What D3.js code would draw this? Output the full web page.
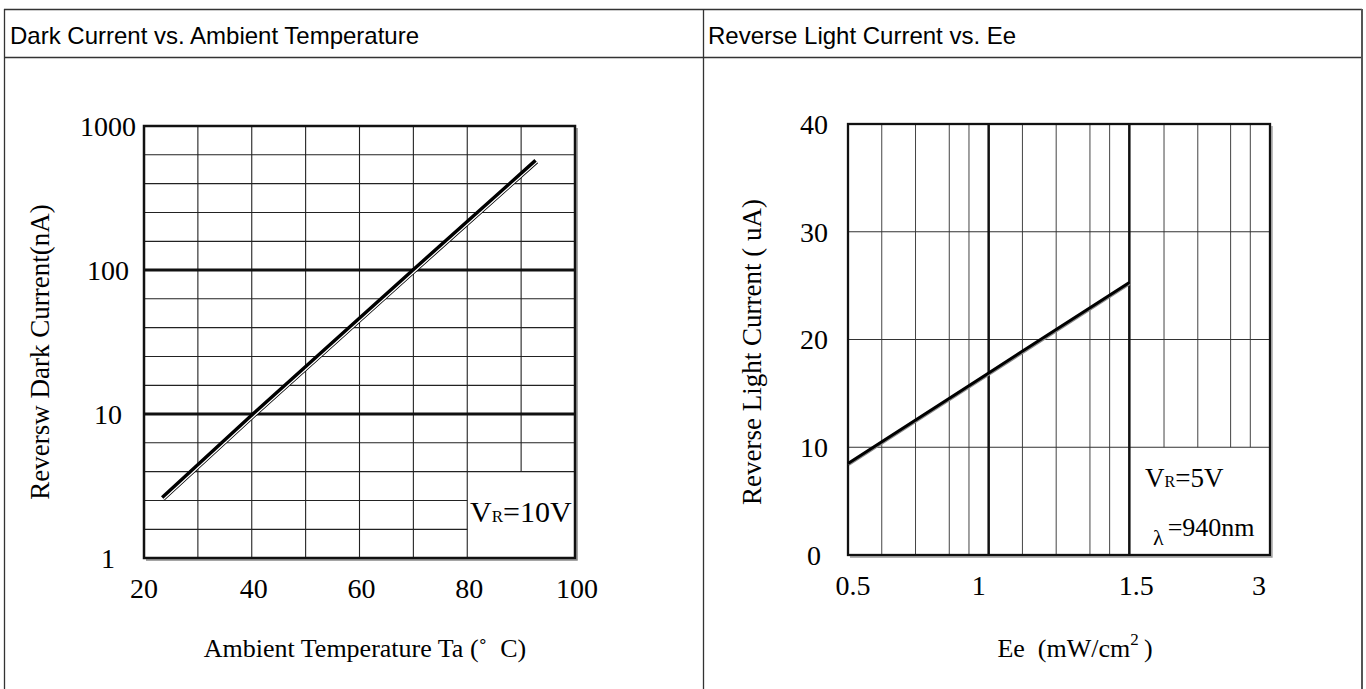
<!DOCTYPE html>
<html lang="en">
<head>
<meta charset="UTF-8">
<title>Dark Current / Reverse Light Current</title>
<style>
  body { margin: 0; background: #fff; }
  .head { font-family: "Liberation Sans", Arial, sans-serif; font-size: 24px; fill: #000; }
  .serif { font-family: "Liberation Serif", "Times New Roman", serif; fill: #000; }
</style>
</head>
<body>
<svg id="chart" width="1366" height="689"></svg>
<script src="https://cdn.jsdelivr.net/npm/d3@7"></script>
<script>
// left chart: dark current vs ambient temperature
const tempTicks = [20, 40, 60, 80, 100];
const tempGrid = [30, 40, 50, 60, 70, 80, 90];
const darkTicks = [1, 10, 100, 1000];
const darkMinor = [1.58, 2.51, 3.98, 6.31, 15.8, 25.1, 39.8, 63.1, 158, 251, 398, 631];
const curveTemp = [23.5, 40.5, 70.2, 92.8];
const curveDark = [2.6, 10, 100, 570];

// right chart: reverse light current vs Ee
const eeTicks = [0.5, 1, 1.5, 3];
const eeMinor = [0.62, 0.74, 0.86, 0.93, 1.12, 1.24, 1.36, 1.43, 1.87, 2.23, 2.58, 2.79];
const lightTicks = [0, 10, 20, 30, 40];
const lineEe = [0.5, 1, 1.5];
const lineCurrent = [8.5, 16.9, 25.3];

const svg = d3.select("#chart");

// table frame
const frame = svg.append("g").attr("stroke", "#333").attr("stroke-width", 1.3);
frame.append("line").attr("x1", 4).attr("x2", 1362).attr("y1", 9.5).attr("y2", 9.5);
frame.append("line").attr("x1", 4).attr("x2", 1362).attr("y1", 57.5).attr("y2", 57.5);
frame.append("line").attr("x1", 4.5).attr("x2", 4.5).attr("y1", 9).attr("y2", 689);
frame.append("line").attr("x1", 703.5).attr("x2", 703.5).attr("y1", 9).attr("y2", 689);
frame.append("line").attr("x1", 1362).attr("x2", 1362).attr("y1", 9).attr("y2", 689)
    .attr("stroke", "#555").attr("stroke-width", 2);

svg.append("text").attr("class", "head").attr("x", 10).attr("y", 44)
    .text("Dark Current vs. Ambient Temperature");
svg.append("text").attr("class", "head").attr("x", 708).attr("y", 44)
    .text("Reverse Light Current vs. Ee");

// ---------- left chart ----------
const x1 = d3.scaleLinear().domain([20, 100]).range([144, 575]);
const y1 = d3.scaleLog().domain([1, 1000]).range([558, 126]);
const g1 = svg.append("g");

// legend box corner (grid is left open there)
const boxT = 80, boxV = 3.98;

g1.selectAll(".vgrid").data(tempGrid).enter().append("line")
    .attr("x1", d => x1(d)).attr("x2", d => x1(d))
    .attr("y1", y1(1000))
    .attr("y2", d => d > boxT ? y1(boxV) : y1(1))
    .attr("stroke", "#222").attr("stroke-width", 1.1);

g1.selectAll(".hgrid").data(darkMinor).enter().append("line")
    .attr("x1", x1(20))
    .attr("x2", d => d < boxV ? x1(boxT) : x1(100))
    .attr("y1", d => y1(d)).attr("y2", d => y1(d))
    .attr("stroke", "#222").attr("stroke-width", 1.1);

g1.selectAll(".decade").data([10, 100]).enter().append("line")
    .attr("x1", x1(20)).attr("x2", x1(100))
    .attr("y1", d => y1(d)).attr("y2", d => y1(d))
    .attr("stroke", "#111").attr("stroke-width", 3);

// plot border, with the slight grey shadow on right/bottom
g1.append("path")
    .attr("d", `M${x1(100) + 2},${y1(1000) + 2}V${y1(1) + 2}H${x1(20) + 2}`)
    .attr("fill", "none").attr("stroke", "#888").attr("stroke-width", 1.5);
g1.append("rect")
    .attr("x", x1(20)).attr("y", y1(1000))
    .attr("width", x1(100) - x1(20)).attr("height", y1(1) - y1(1000))
    .attr("fill", "none").attr("stroke", "#111").attr("stroke-width", 2.5);

// curve drawn as a black band with a thin white core
const darkPts = curveTemp.map((t, i) => [t, curveDark[i]]);
const line1 = d3.line().x(d => x1(d[0])).y(d => y1(d[1]));
const a = darkPts[0], b = darkPts[darkPts.length - 1];
let dx = x1(b[0]) - x1(a[0]), dy = y1(b[1]) - y1(a[1]);
let len = Math.hypot(dx, dy);
const off1 = [-dy / len * 1.3, dx / len * 1.3];
g1.append("path").attr("d", line1(darkPts))
    .attr("fill", "none").attr("stroke", "#000").attr("stroke-width", 5.5);
g1.append("path").attr("d", line1(darkPts))
    .attr("transform", `translate(${Math.abs(off1[0])},${Math.abs(off1[1])})`)
    .attr("fill", "none").attr("stroke", "#fff").attr("stroke-width", 1.2);

// tick labels
g1.selectAll(".ylab").data(darkTicks).enter().append("text")
    .attr("class", "serif").attr("font-size", 28)
    .attr("text-anchor", "middle")
    .attr("x", 108).attr("y", d => y1(d)).attr("dy", "0.35em")
    .text(d => d);
g1.selectAll(".xlab").data(tempTicks).enter().append("text")
    .attr("class", "serif").attr("font-size", 28)
    .attr("text-anchor", "middle")
    .attr("x", d => d === 20 ? x1(d) : x1(d) + 2).attr("y", 598)
    .text(d => d);

g1.append("text").attr("class", "serif").attr("font-size", 26)
    .attr("text-anchor", "middle").attr("x", 365).attr("y", 657)
    .text("Ambient Temperature Ta (\u02DA\u2002C)");
g1.append("text").attr("class", "serif").attr("font-size", 27)
    .attr("text-anchor", "middle")
    .attr("transform", "translate(49,352) rotate(-90)")
    .text("Reversw Dark Current(nA)");

const vr1 = g1.append("text").attr("class", "serif").attr("x", 470).attr("y", 522);
vr1.append("tspan").attr("font-size", 30).text("V");
vr1.append("tspan").attr("font-size", 17).text("R");
vr1.append("tspan").attr("font-size", 30).text("=10V");

// ---------- right chart ----------
const x2 = d3.scaleLinear().domain(eeTicks)
    .range(eeTicks.map((d, i) => 848 + i * (1270 - 848) / (eeTicks.length - 1)));
const y2 = d3.scaleLinear().domain([0, 40]).range([555, 124]);
const g2 = svg.append("g");

const boxEe = 1.5, boxI = 10;

g2.selectAll(".vgrid").data(eeMinor).enter().append("line")
    .attr("x1", d => x2(d)).attr("x2", d => x2(d))
    .attr("y1", y2(40))
    .attr("y2", d => d > boxEe ? y2(boxI) : y2(0))
    .attr("stroke", "#444").attr("stroke-width", 1);

g2.selectAll(".hgrid").data([10, 20, 30]).enter().append("line")
    .attr("x1", x2(0.5)).attr("x2", x2(3))
    .attr("y1", d => y2(d)).attr("y2", d => y2(d))
    .attr("stroke", "#333").attr("stroke-width", 1);

g2.selectAll(".major").data([1, 1.5]).enter().append("line")
    .attr("x1", d => x2(d)).attr("x2", d => x2(d))
    .attr("y1", y2(40)).attr("y2", y2(0))
    .attr("stroke", "#111").attr("stroke-width", 2.5);

g2.append("path")
    .attr("d", `M${x2(3) + 2},${y2(40) + 2}V${y2(0) + 2}H${x2(0.5) + 2}`)
    .attr("fill", "none").attr("stroke", "#999").attr("stroke-width", 1.3);
g2.append("rect")
    .attr("x", x2(0.5)).attr("y", y2(40))
    .attr("width", x2(3) - x2(0.5)).attr("height", y2(0) - y2(40))
    .attr("fill", "none").attr("stroke", "#111").attr("stroke-width", 2.3);

const lightPts = lineEe.map((e, i) => [e, lineCurrent[i]]);
const line2 = d3.line().x(d => x2(d[0])).y(d => y2(d[1]));
g2.append("path").attr("d", line2(lightPts))
    .attr("transform", "translate(0.8,1.4)")
    .attr("fill", "none").attr("stroke", "#888").attr("stroke-width", 2);
g2.append("path").attr("d", line2(lightPts))
    .attr("fill", "none").attr("stroke", "#000").attr("stroke-width", 3);

g2.selectAll(".ylab").data(lightTicks).enter().append("text")
    .attr("class", "serif").attr("font-size", 28)
    .attr("text-anchor", "middle")
    .attr("x", 814).attr("y", d => y2(d)).attr("dy", "0.35em")
    .text(d => d);
g2.selectAll(".xlab").data(eeTicks).enter().append("text")
    .attr("class", "serif").attr("font-size", 28)
    .attr("text-anchor", "middle")
    .attr("x", d => x2(d) + (d === 0.5 ? 5 : d === 1 ? -10 : d === 1.5 ? 7 : -11))
    .attr("y", 595)
    .text(d => d);

const eeTitle = g2.append("text").attr("class", "serif").attr("font-size", 26)
    .attr("text-anchor", "middle").attr("x", 1075).attr("y", 657);
eeTitle.append("tspan").text("Ee\u2002(mW/cm");
eeTitle.append("tspan").attr("font-size", 17).attr("dy", -12).text("2");
eeTitle.append("tspan").attr("dy", 12).text("\u2009)");

g2.append("text").attr("class", "serif").attr("font-size", 27)
    .attr("text-anchor", "middle")
    .attr("transform", "translate(761,352) rotate(-90)")
    .text("Reverse Light Current ( uA)");

const vr2 = g2.append("text").attr("class", "serif").attr("x", 1145).attr("y", 487);
vr2.append("tspan").attr("font-size", 27).text("V");
vr2.append("tspan").attr("font-size", 16).text("R");
vr2.append("tspan").attr("font-size", 27).text("=5V");

const lam = g2.append("text").attr("class", "serif").attr("x", 1153).attr("y", 545);
lam.append("tspan").attr("font-size", 22).text("\u03BB");
lam.append("tspan").attr("font-size", 26).attr("dx", 4).attr("dy", -9).text("=940nm");
</script>
</body>
</html>
